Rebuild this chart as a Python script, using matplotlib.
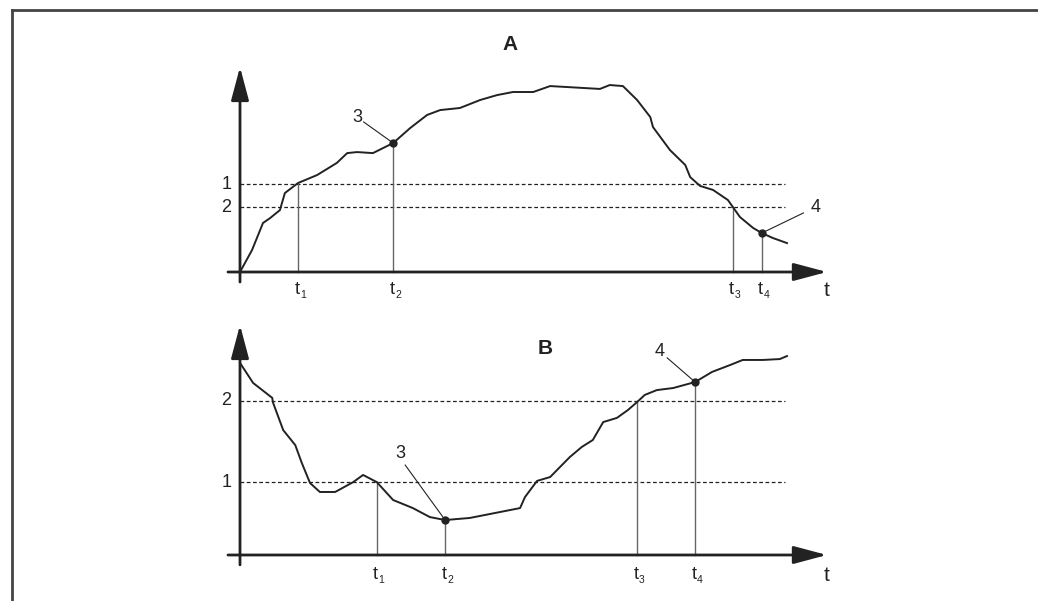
import matplotlib
matplotlib.use("Agg")
import matplotlib.pyplot as plt
from matplotlib.lines import Line2D
import numpy as np

plt.rcParams['font.family'] = ['Liberation Sans', 'DejaVu Sans']

# panel A: measured value over time (arbitrary units, 0..100)
a_t = [0, 2.2, 4.2, 5.5, 7.3, 8.2, 10.6, 14.1, 17.7, 19.6, 21.4, 24.3, 28.0,
       31.1, 34.2, 36.6, 40.2, 43.9, 47.0, 49.9, 53.6, 56.7, 65.8, 67.6, 70.0,
       72.6, 75.0, 75.5, 78.6, 81.4, 82.3, 84.1, 86.5, 89.2, 91.4, 93.8, 95.4,
       97.4, 100]
a_y = [0, 10.7, 23.9, 26.3, 30.2, 38.5, 43.4, 47.3, 53.2, 58.0, 58.5, 58.0, 62.9,
       70.2, 76.6, 79.0, 80.0, 83.9, 86.3, 87.8, 87.8, 90.7, 89.3, 91.2, 90.7,
       83.9, 75.6, 70.7, 59.5, 52.2, 46.3, 42.0, 40.0, 35.1, 26.8, 21.5, 19.0,
       16.6, 14.1]
a_levels = {"1": 42.9, "2": 31.7}
a_events = [10.6, 28.0, 90.1, 95.4]      # t1..t4
a_event_top = [42.9, None, 31.7, None]   # None -> up to the curve
a_points = {"3": 28.0, "4": 95.4}

# panel B
b_t = [0, 2.4, 5.9, 6.0, 7.9, 10.1, 11.3, 12.8, 14.6, 17.4, 20.7, 22.5, 25.0,
       28.0, 31.6, 34.7, 37.5, 42.0, 51.2, 52.1, 54.3, 56.7, 60.3, 62.5, 64.5,
       66.4, 68.9, 70.9, 72.6, 74.0, 76.2, 79.2, 83.2, 86.3, 89.6, 91.9, 95.6,
       98.7, 100]
b_y = [83.5, 74.8, 68.3, 66.5, 54.3, 47.8, 40.0, 31.3, 27.4, 27.4, 31.7, 34.8, 31.7,
       23.9, 20.4, 16.5, 15.2, 16.1, 20.4, 25.2, 32.2, 33.9, 42.6, 47.0, 50.0,
       57.8, 59.6, 63.0, 66.5, 69.6, 71.7, 72.6, 75.2, 79.6, 82.6, 84.8, 84.8,
       85.2, 86.5]
b_levels = {"2": 67.0, "1": 31.7}
b_events = [25.0, 37.5, 72.6, 83.2]
b_event_top = [31.7, None, 67.0, None]
b_points = {"3": 37.5, "4": 83.2}

event_subs = ["1", "2", "3", "4"]

W, H = 1038, 601
fig = plt.figure(figsize=(W / 100, H / 100), dpi=100)

# frame (top and left edge)
fig.add_artist(Line2D([12 / W, 1], [1 - 10 / H, 1 - 10 / H], transform=fig.transFigure,
                      color="#444444", lw=2))
fig.add_artist(Line2D([12 / W, 12 / W], [0, 1 - 10 / H], transform=fig.transFigure,
                      color="#444444", lw=2))


def make_axes(px_left, px_right, py_top, py_bot, x0, xs, y0, ys):
    ax = fig.add_axes([px_left / W, 1 - py_bot / H, (px_right - px_left) / W,
                       (py_bot - py_top) / H])
    ax.set_xlim((px_left - x0) / xs, (px_right - x0) / xs)
    ax.set_ylim((y0 - py_bot) / ys, (y0 - py_top) / ys)
    ax.axis("off")
    return ax


def draw_panel(ax, title, title_pos, t, y, levels, events, event_top, points,
               label_pos, leader_start, ymin_ext):
    arrow = dict(arrowstyle="-|>,head_width=0.32,head_length=1.2", color="#222222",
                 lw=2, mutation_scale=17, shrinkA=0, shrinkB=0)
    # axes with arrows
    ax.annotate("", xy=(107.3, 0), xytext=(-2.2, 0), arrowprops=arrow)
    ax.annotate("", xy=(0, 100), xytext=(0, ymin_ext), arrowprops=arrow)
    ax.text(107.3, -9.0, "t", fontsize=15, ha="center", va="center", color="#222222")

    # threshold lines
    for name, lv in levels.items():
        ax.plot([0, 99.6], [lv, lv], color="#222222", lw=0.9, ls=(0, (3, 2)))
        ax.text(-1.6, lv, name, fontsize=13, ha="right", va="center", color="#222222")

    # event drop lines
    for i, (te, top) in enumerate(zip(events, event_top)):
        ytop = top if top is not None else np.interp(te, t, y)
        ax.plot([te, te], [0, ytop], color="#666666", lw=1)
        ax.text(te + 0.25, -8.6, "t", fontsize=13, ha="right", va="center",
                color="#222222")
        ax.text(te + 0.35, -11.0, event_subs[i], fontsize=7.5, ha="left", va="center",
                color="#222222")

    ax.plot(t, y, color="#222222", lw=1.4)

    # marked points with leaders
    for name, tp in points.items():
        yp = np.interp(tp, t, y)
        ax.plot(tp, yp, "o", color="#222222", ms=5)
        lx, ly = label_pos[name]
        sx, sy = leader_start[name]
        ax.plot([sx, tp], [sy, yp], color="#222222", lw=0.8)
        ax.text(lx, ly, name, fontsize=13, ha="center", va="center", color="#222222")

    ax.text(title_pos[0], title_pos[1], title, fontsize=15, fontweight="bold",
            ha="center", va="center", color="#222222")


axA = make_axes(200, 860, 30, 305, 240, 5.47, 272, 2.05)
draw_panel(axA, "A", (49.4, 111.2), a_t, a_y, a_levels, a_events, a_event_top,
           a_points, {"3": (21.4, 75.6), "4": (105.3, 31.7)},
           {"3": (22.6, 73.2), "4": (103.0, 28.8)}, -4.9)

axB = make_axes(200, 860, 315, 590, 240, 5.47, 555, 2.3)
draw_panel(axB, "B", (55.8, 90.0), b_t, b_y, b_levels, b_events, b_event_top,
           b_points, {"3": (29.3, 44.3), "4": (76.8, 88.3)},
           {"3": (30.2, 39.1), "4": (78.1, 85.7)}, -4.3)

fig.savefig("out.png", dpi=100)
